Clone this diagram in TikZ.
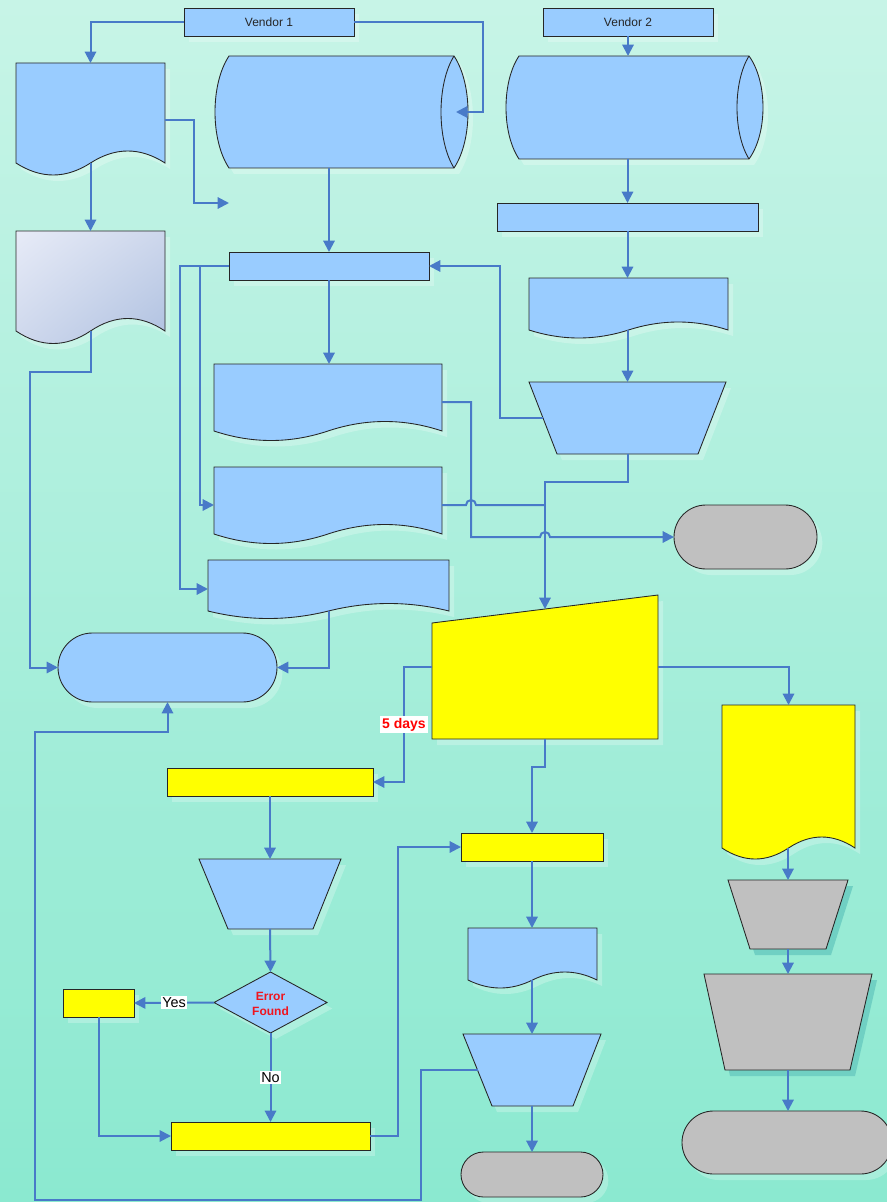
\documentclass[tikz,border=0pt]{standalone}
\usepackage{fontspec}
\setmainfont{Liberation Sans}
\usetikzlibrary{arrows.meta,shapes.geometric,shapes.misc,calc,shadows,shadings}
\definecolor{lc}{RGB}{72,122,200}
\definecolor{bfill}{RGB}{153,204,255}
\definecolor{yfill}{RGB}{255,255,0}
\definecolor{gfill}{RGB}{192,192,192}
\definecolor{dshadow}{RGB}{112,208,195}
\definecolor{errred}{RGB}{240,20,30}
\definecolor{gA}{RGB}{231,235,247}
\definecolor{gB}{RGB}{205,215,236}
\definecolor{gC}{RGB}{174,192,224}
\pgfdeclareverticalshading{bgshade}{100bp}{rgb(0bp)=(0.59,0.92,0.83); rgb(22bp)=(0.53,0.91,0.81); rgb(100bp)=(0.90,0.98,0.95)}
\tikzset{
  conn/.style={draw=lc, line width=1.5pt, -{Triangle[length=8.5pt,width=8.5pt]}},
  plain/.style={draw=lc, line width=1.5pt},
  outl/.style={draw=black!85, line width=0.65pt},
  lshadow/.style={drop shadow={shadow xshift=4pt, shadow yshift=-4.5pt, fill=white, opacity=0.25}},
  lsh/.style={fill=white, opacity=0.25},
  dsh/.style={fill=dshadow},
  sz/.style 2 args={minimum width={#1*0.75pt}, minimum height={#2*0.75pt}},
  pbox/.style={rectangle, outl, inner sep=0pt, outer sep=0pt, lshadow},
  term/.style={rounded rectangle, outl, inner sep=0pt, outer sep=0pt, lshadow},
  ghost/.style={rectangle, inner sep=0pt, outer sep=0pt},
  lab/.style={fill=white, inner sep=1pt, text=black, font=\fontsize{10.8}{12}\selectfont},
  redlab/.style={fill=white, inner sep=1.5pt, text=red, font=\bfseries\fontsize{10.5}{12}\selectfont},
  vtext/.style={font=\fontsize{9}{11}\selectfont, text=black!85}
}
% document shape: L T R yb A style
\newcommand\docshape[6]{%
  \fill[white,opacity=0.25,shift={(5,6)}] (#1,#2) -- (#3,#2) -- (#3,#4) .. controls ({#3-(#3-#1)/6},{#4-4/3*#5}) and ({#3-(#3-#1)/3},{#4-4/3*#5}) .. ({(#1+#3)/2},#4) .. controls ({(#1+#3)/2-(#3-#1)/6},{#4+4/3*#5}) and ({#1+(#3-#1)/6},{#4+4/3*#5}) .. (#1,#4) -- cycle;
  \path[outl,#6] (#1,#2) -- (#3,#2) -- (#3,#4) .. controls ({#3-(#3-#1)/6},{#4-4/3*#5}) and ({#3-(#3-#1)/3},{#4-4/3*#5}) .. ({(#1+#3)/2},#4) .. controls ({(#1+#3)/2-(#3-#1)/6},{#4+4/3*#5}) and ({#1+(#3-#1)/6},{#4+4/3*#5}) .. (#1,#4) -- cycle;
}
% horizontal cylinder: x1 x2 T B bulgeleft bulgeright bulgeinner
\newcommand\cylshape[7]{%
  \fill[white,opacity=0.25,shift={(5,6)}] (#1,#3) -- (#2,#3) .. controls ({#2+4/3*#6},{#3+(#4-#3)/4}) and ({#2+4/3*#6},{#4-(#4-#3)/4}) .. (#2,#4) -- (#1,#4) .. controls ({#1-4/3*#5},{#4-(#4-#3)/4}) and ({#1-4/3*#5},{#3+(#4-#3)/4}) .. (#1,#3) -- cycle;
  \draw[outl, fill=bfill] (#1,#3) -- (#2,#3) .. controls ({#2+4/3*#6},{#3+(#4-#3)/4}) and ({#2+4/3*#6},{#4-(#4-#3)/4}) .. (#2,#4) -- (#1,#4) .. controls ({#1-4/3*#5},{#4-(#4-#3)/4}) and ({#1-4/3*#5},{#3+(#4-#3)/4}) .. (#1,#3) -- cycle;
  \draw[outl] (#2,#3) .. controls ({#2-4/3*#7},{#3+(#4-#3)/4}) and ({#2-4/3*#7},{#4-(#4-#3)/4}) .. (#2,#4);
}
% inverted trapezoid: Ltop Rtop T Lbot Rbot B fill shadowstyle
\newcommand\trapshape[8]{%
  \fill[#8,shift={(5,6)}] (#1,#3) -- (#2,#3) -- (#5,#6) -- (#4,#6) -- cycle;
  \draw[outl, fill=#7] (#1,#3) -- (#2,#3) -- (#5,#6) -- (#4,#6) -- cycle;
}
\begin{document}
\begin{tikzpicture}[x=0.75pt, y=-0.75pt]
\useasboundingbox (0,0) rectangle (887,1202);
\clip (0,0) rectangle (887,1202);
\shade[shading=bgshade] (0,0) rectangle (887,1202);

% ---- shapes ----
\node[pbox, fill=bfill, sz={170}{28}, vtext] (V1) at (269,22) {Vendor 1};
\node[pbox, fill=bfill, sz={170}{28}, vtext] (V2) at (628,22) {Vendor 2};

\cylshape{229}{454}{56}{168}{14}{14}{13}
\node[ghost, sz={225}{112}] (C1) at (341.5,112) {};
\cylshape{519}{749}{56}{159}{13}{14}{12}
\node[ghost, sz={230}{103}] (C2) at (634,107.5) {};

\docshape{16}{63}{165}{163}{12}{fill=bfill}
\node[ghost, sz={149}{100}] (D1) at (90.5,113) {};
\docshape{16}{231}{165}{331}{12.5}{shade, upper left=gA, upper right=gB, lower left=gB, lower right=gC}
\node[ghost, sz={149}{100}] (D2) at (90.5,281) {};
\docshape{214}{364}{442}{431}{9.5}{fill=bfill}
\node[ghost, sz={228}{67}] (D3) at (328,397.5) {};
\docshape{214}{467}{442}{534}{9.5}{fill=bfill}
\node[ghost, sz={228}{67}] (D4) at (328,500.5) {};
\docshape{208}{560}{449}{611}{7.5}{fill=bfill}
\node[ghost, sz={241}{51}] (D5) at (328.5,585.5) {};
\docshape{529}{278}{728}{330}{8}{fill=bfill}
\node[ghost, sz={199}{52}] (D6) at (628.5,304) {};
\docshape{722}{705}{855}{848}{11}{fill=yfill}
\node[ghost, sz={133}{143}] (Y2) at (788.5,776.5) {};
\docshape{468}{928}{597}{980}{8}{fill=bfill}
\node[ghost, sz={129}{52}] (D7) at (532.5,954) {};

\node[pbox, fill=bfill, sz={261}{28}] (R1) at (627.5,217) {};
\node[pbox, fill=bfill, sz={200}{28}] (R2) at (329,266) {};

\trapshape{529}{726}{382}{557}{698}{454}{bfill}{lsh}
\node[ghost, sz={197}{72}] (T1) at (627.5,418) {};
\coordinate (T1L) at (543,418);
\trapshape{199}{341}{859}{228}{313}{929}{bfill}{lsh}
\node[ghost, sz={142}{70}] (T2) at (270,894) {};
\trapshape{463}{601}{1034}{492}{573}{1106}{bfill}{lsh}
\node[ghost, sz={138}{72}] (T3) at (532,1070) {};
\coordinate (T3L) at (477.5,1070);
\trapshape{728}{848}{880}{750}{826}{949}{gfill}{dsh}
\node[ghost, sz={120}{69}] (T4) at (788,914.5) {};
\trapshape{704}{872}{974}{725}{850}{1070}{gfill}{dsh}
\node[ghost, sz={168}{96}] (T5) at (788,1022) {};

\node[term, fill=gfill, sz={143}{64}] (G1) at (745.5,537) {};
\node[term, fill=bfill, sz={219}{69}] (B1) at (167.5,667.5) {};
\node[term, fill=gfill, sz={142}{45}] (G2) at (532,1174.5) {};
\node[term, fill=gfill, sz={210}{63}] (G3) at (787,1142.5) {};

\fill[white,opacity=0.25,shift={(5,6)}] (432,623) -- (658,595) -- (658,739) -- (432,739) -- cycle;
\draw[outl, fill=yfill] (432,623) -- (658,595) -- (658,739) -- (432,739) -- cycle;
\node[ghost, sz={226}{144}] (Y1) at (545,667) {};

\node[pbox, fill=yfill, sz={206}{28}] (Y3) at (270,782) {};
\node[pbox, fill=yfill, sz={142}{28}] (Y4) at (532,847) {};
\node[pbox, fill=yfill, sz={71}{28}] (Y5) at (98.5,1003) {};
\node[pbox, fill=yfill, sz={199}{28}] (Y6) at (270.5,1136) {};

\node[diamond, outl, fill=bfill, sz={113}{61}, inner sep=0pt, outer sep=0pt, aspect=2, lshadow] (DM) at (270.5,1002.5) {};
\node[align=center, text=errred, font=\bfseries\fontsize{9}{11.25}\selectfont] (ET) at (270.5,1003.5) {Error\\Found};

\coordinate (C1in) at (456,112);
\coordinate (Dfree) at (229,203);
\coordinate (J1) at (545,505);

% ---- connectors ----
\draw[conn] (V1.west) -| (D1.north);
\draw[conn] (V1.east) -| (483,112) -- (C1in);
\draw[conn] ($(D1.east)+(0,7)$) -| (194,203) -- (Dfree);
\draw[conn] (D1.south) -- (D2.north);
\draw[conn] (C1.south -| R2.north) -- (R2.north);
\draw[conn] (V2.south) -- (V2.south |- C2.north);
\draw[conn] (C2.south -| R1.north) -- (R1.north);
\draw[conn] (R1.south) -- (D6.north -| R1.south);
\draw[conn] (D6.south -| T1.north) -- (T1.north);
\draw[conn] (T1L) -| ($(R2.east)+(71,0)$) -- (R2.east);
\draw[conn] (R2.south) -- (D3.north -| R2.south);
\draw[conn] (R2.west) -- ++(-49,0) |- ($(D5.west)+(0,3.5)$);
\draw[conn] (R2.west) -- ++(-29,0) |- ($(D4.west)+(0,4.5)$);
\draw[conn] ($(D3.east)+(0,4.5)$) -- (471,402) -- (471,537) -- (540,537) arc[start angle=180, end angle=360, radius=5] -- (G1.west);
\draw[plain] ($(D4.east)+(0,4.5)$) -- (466,505) arc[start angle=180, end angle=360, radius=5] -- (J1);
\draw[conn] (T1.south) -- ++(0,28) -| ($(Y1.north)+(0,14)$);
\draw[conn] (D5.south) |- (B1.east);
\draw[conn] (D2.south) -- ++(0,41) -- (30,372) |- (B1.west);
\draw[conn] (Y1.west) -- ++(-28,0) -- node[redlab] (L5) {5 days} ++(0,115) -- (Y3.east);
\draw[conn] (Y1.east) -| (Y2.north);
\draw[conn] (Y1.south) -- ++(0,28) -| (Y4.north);
\draw[conn] (Y3.south) -- (T2.north);
\draw[conn] (T2.south) -- (DM.north);
\draw[conn] (DM.west) -- node[lab] (LY) {Yes} (Y5.east);
\draw[conn] (DM.south) -- node[lab] (LN) {No} (Y6.north);
\draw[conn] (Y5.south) |- (Y6.west);
\draw[conn] (Y6.east) -- ++(28,0) |- (Y4.west);
\draw[conn] (Y4.south) -- (D7.north -| Y4.south);
\draw[conn] (D7.south -| T3.north) -- (T3.north);
\draw[conn] (T3.south) -- (G2.north);
\draw[conn] (T3L) -| (421,1200) -| (35,732) -| (B1.south);
\draw[conn] (Y2.south -| T4.north) -- (T4.north);
\draw[conn] (T4.south) -- (T5.north);
\draw[conn] (T5.south) -- (G3.north -| T5.south);
\end{tikzpicture}
\end{document}
